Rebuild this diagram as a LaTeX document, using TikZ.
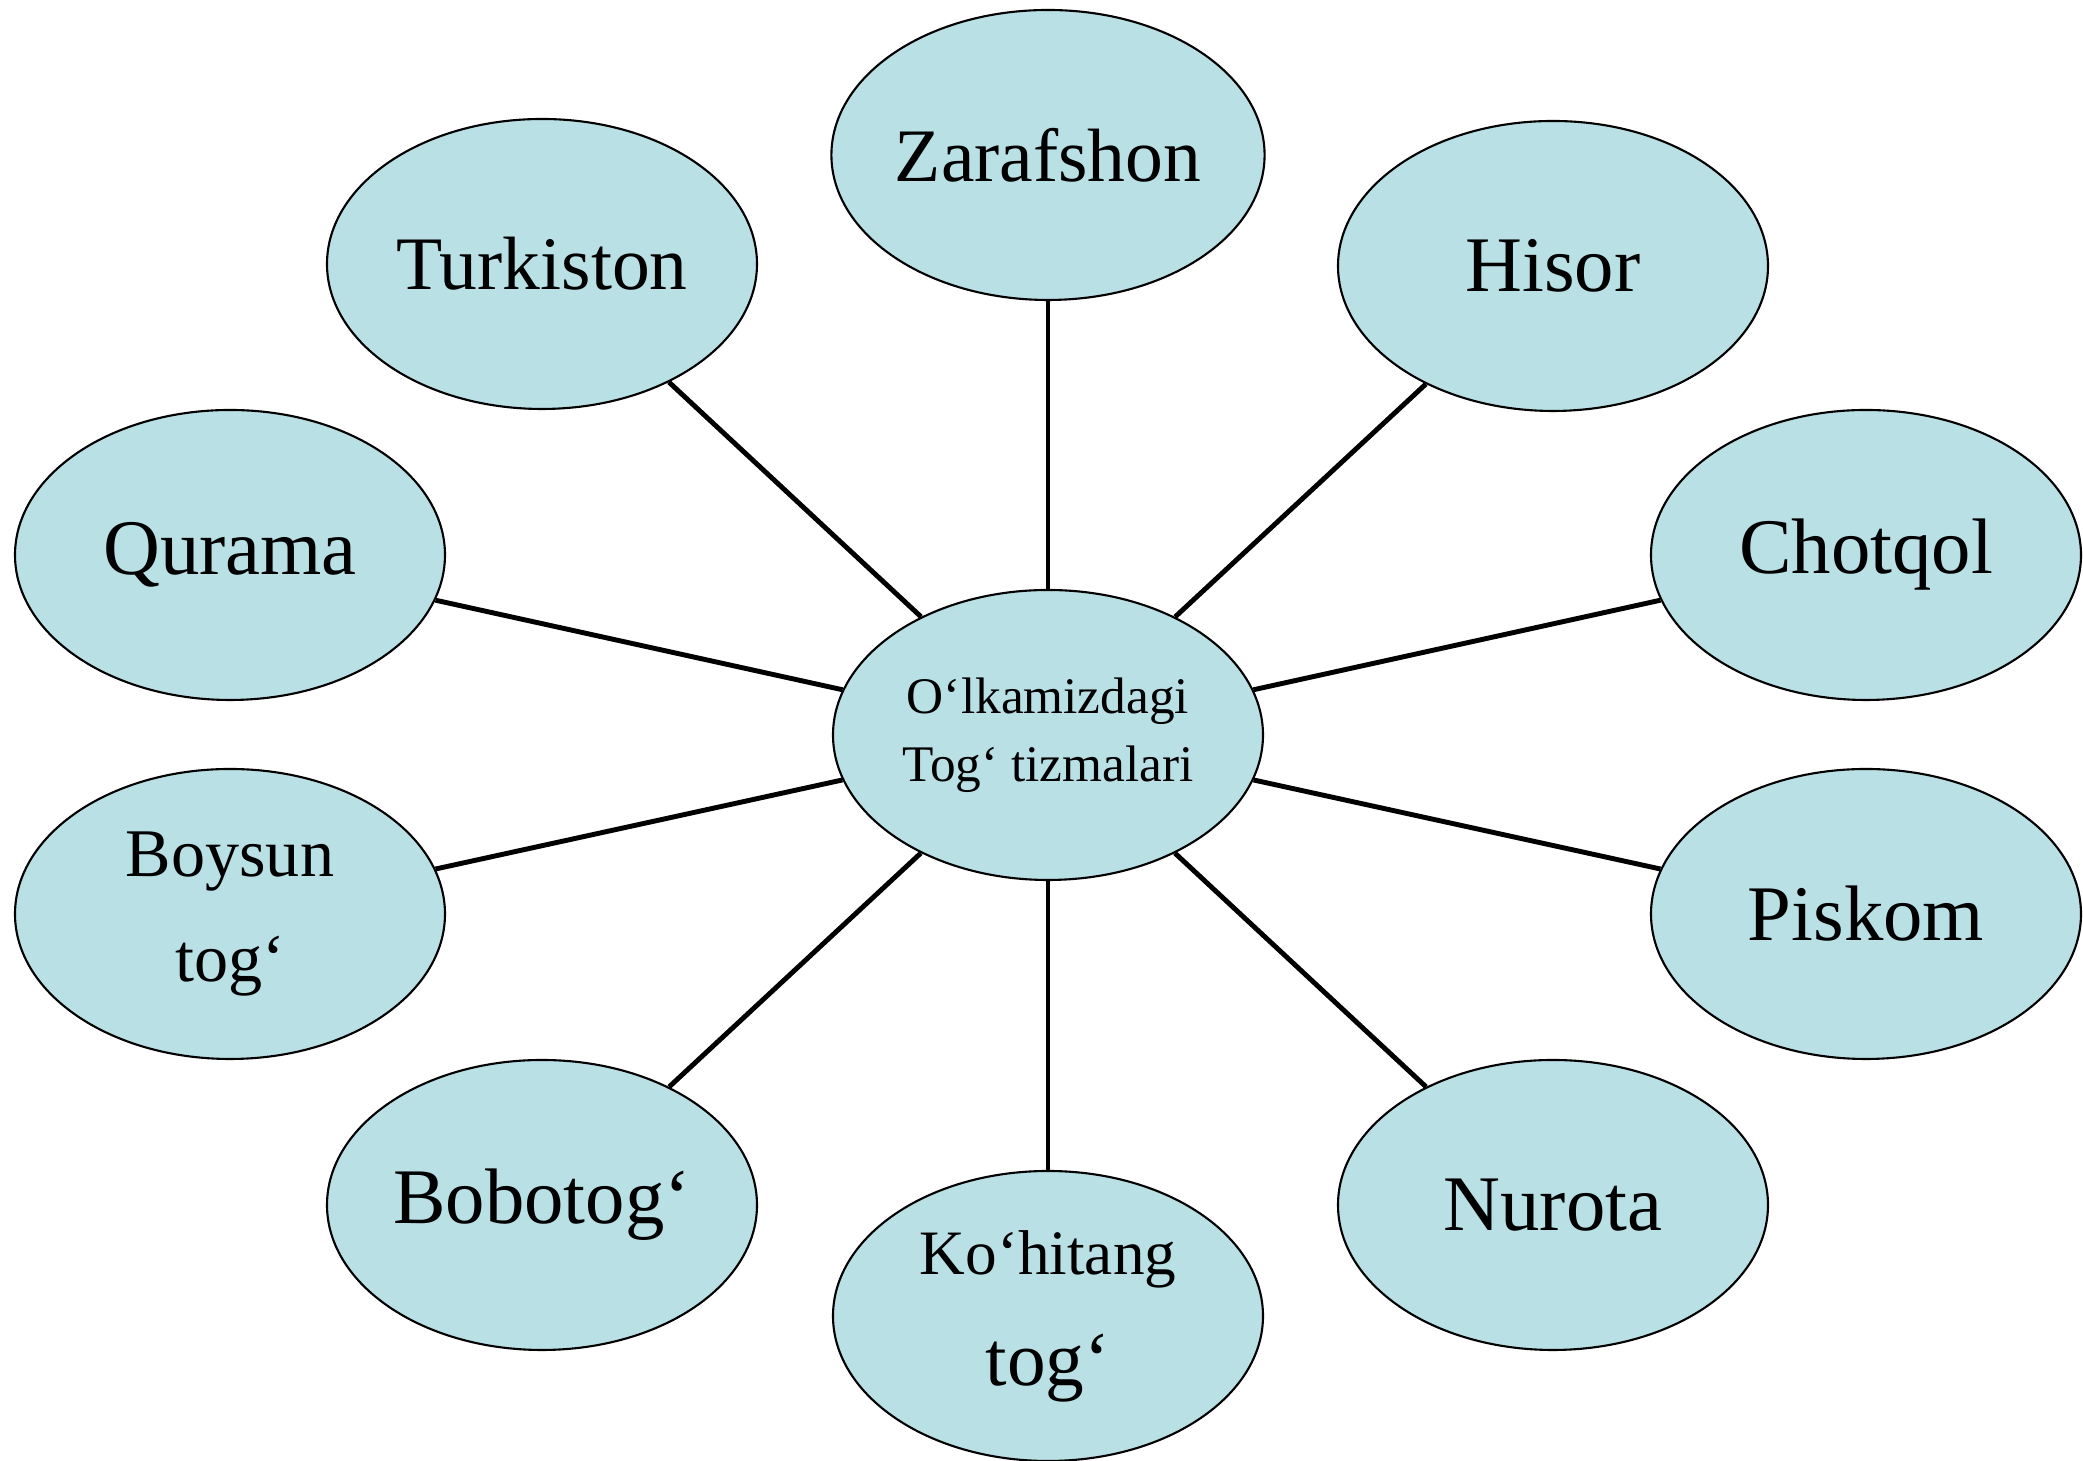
\documentclass[tikz,border=0pt]{standalone}
\usepackage{fontspec}
\setmainfont{Liberation Serif}
\usepackage{tikz}
\usetikzlibrary{shapes.geometric}
\definecolor{ridgefill}{RGB}{185,224,228}
\newcommand{\ridgefont}{\fontsize{22.4}{26}\selectfont}

\begin{document}
\begin{tikzpicture}[
	ridge/.style={ellipse, draw=black, line width=0.6pt, fill=ridgefill,
		minimum width=4.3cm, minimum height=2.9cm, inner sep=0pt, align=center,
		font=\ridgefont},
	link/.style={line width=1.4pt}]
	\useasboundingbox (0,0) rectangle (20.83,14.61);
	% centre
	\node[ridge, font={\fontsize{14.6}{19.4}\selectfont}] (hub) at (10.48,7.26) {O‘lkamizdagi\\Tog‘ tizmalari};
	% outer ellipses
	\node[ridge, font={\fontsize{21.5}{26}\selectfont}] (zarafshon) at (10.48,13.06) {Zarafshon};
	\node[ridge, font={\fontsize{21.5}{26}\selectfont}] (turkiston) at (5.42,11.97) {Turkiston};
	\node[ridge] (hisor) at (15.53,11.95) {Hisor};
	\node[ridge] (qurama) at (2.30,9.06) {Qurama};
	\node[ridge] (chotqol) at (18.66,9.06) {Chotqol};
	\node[ridge, font={\fontsize{19.4}{30}\selectfont}] (boysun) at (2.30,5.47) {Boysun\\tog‘};
	\node[ridge] (piskom) at (18.66,5.47) {Piskom};
	\node[ridge] (bobotog) at (5.42,2.56) {Bobotog‘};
	\node[ridge, font={\fontsize{18}{31.6}\selectfont}] (kohitang) at (10.48,1.45) {Ko‘hitang\\{\fontsize{22}{31.6}\selectfont tog‘}};
	\node[ridge] (nurota) at (15.53,2.56) {Nurota};
	% spokes
	\foreach \n in {zarafshon,turkiston,hisor,qurama,chotqol,boysun,piskom,bobotog,kohitang,nurota}
		\draw[link] (hub) -- (\n);
\end{tikzpicture}
\end{document}
